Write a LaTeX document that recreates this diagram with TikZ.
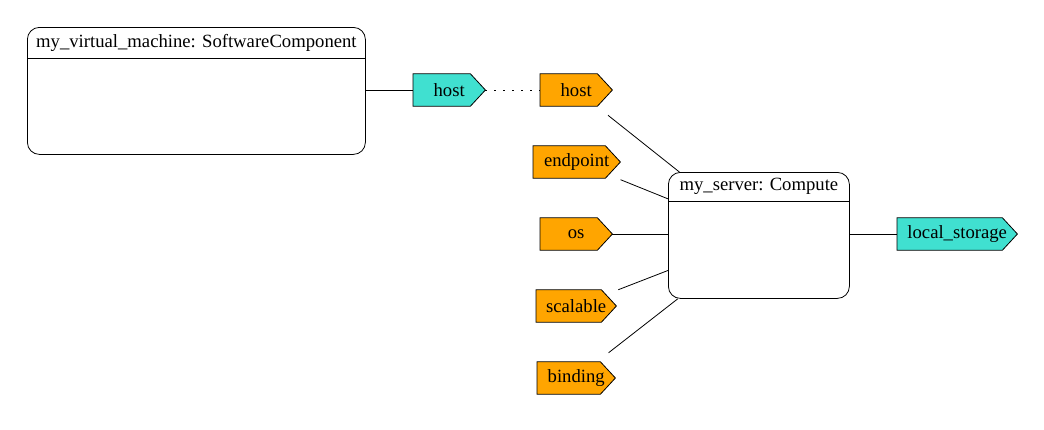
\documentclass[tikz,border=0pt]{standalone}
\usepackage{fontspec}
\setmainfont{Liberation Serif}
\usetikzlibrary{backgrounds}
\definecolor{turq}{HTML}{40E0D0}
\definecolor{orng}{HTML}{FFA500}
\begin{document}
\begin{tikzpicture}[x=1pt,y=-1pt,
  every node/.style={font=\fontsize{18.67}{22}\selectfont},
  comp/.style={draw, rounded corners=12pt, inner sep=0pt, anchor=north west, line width=0.8pt},
  port/.style={rectangle, minimum height=32pt, inner sep=0pt, anchor=west},
  pent/.style={draw, line width=0.8pt},
  link/.style={line width=0.8pt},
  dots/.style={line width=1pt, dash pattern=on 1.5pt off 7.5pt}]
\useasboundingbox (0,0) rectangle (1044,429);
% components
\node[comp, minimum width=338pt, minimum height=127pt] (vm) at (27,27) {};
\draw[link] ([yshift=-31pt]vm.north west) -- ([yshift=-31pt]vm.north east);
\node (vmt) at ([yshift=-15.5pt]vm.north) {my\_virtual\_machine: SoftwareComponent};
\node[comp, minimum width=181pt, minimum height=126pt] (srv) at (668,172) {};
\draw[link] ([yshift=-29pt]srv.north west) -- ([yshift=-29pt]srv.north east);
\node (srvt) at ([yshift=-14.5pt]srv.north) {my\_server: Compute};
% ports
\node[port, minimum width=72pt] (hosta) at (413,90) {host};
\node[port, minimum width=72pt] (hostb) at (540,90) {host};
\node[port, minimum width=87pt] (endp) at (533,162) {endpoint};
\node[port, minimum width=72pt] (os) at (540,234) {os};
\node[port, minimum width=80pt] (scal) at (536,306) {scalable};
\node[port, minimum width=78pt] (bind) at (537,378) {binding};
\node[port, minimum width=120pt] (locs) at (897,234) {local\_storage};
\begin{scope}[on background layer]
\foreach \n/\c in {hosta/turq, hostb/orng, endp/orng, os/orng, scal/orng, bind/orng, locs/turq}
  \draw[pent, fill=\c] (\n.north west) -- ([xshift=-15pt]\n.north east) -- (\n.east)
     -- ([xshift=-15pt]\n.south east) -- (\n.south west) -- cycle;
\end{scope}
% connectors
\draw[link] (vm.east |- hosta) -- (hosta);
\draw[dots] (hosta) -- (hostb);
\draw[link, shorten <=14.6pt] (hostb) -- (srv);
\draw[link, shorten <=4pt] (endp) -- (srv);
\draw[link] (os) -- (os -| srv.west);
\draw[link, shorten <=2pt] (scal) -- (srv);
\draw[link, shorten <=14.7pt] (bind) -- (srv);
\draw[link] (srv.east |- locs) -- (locs);
\end{tikzpicture}
\end{document}
